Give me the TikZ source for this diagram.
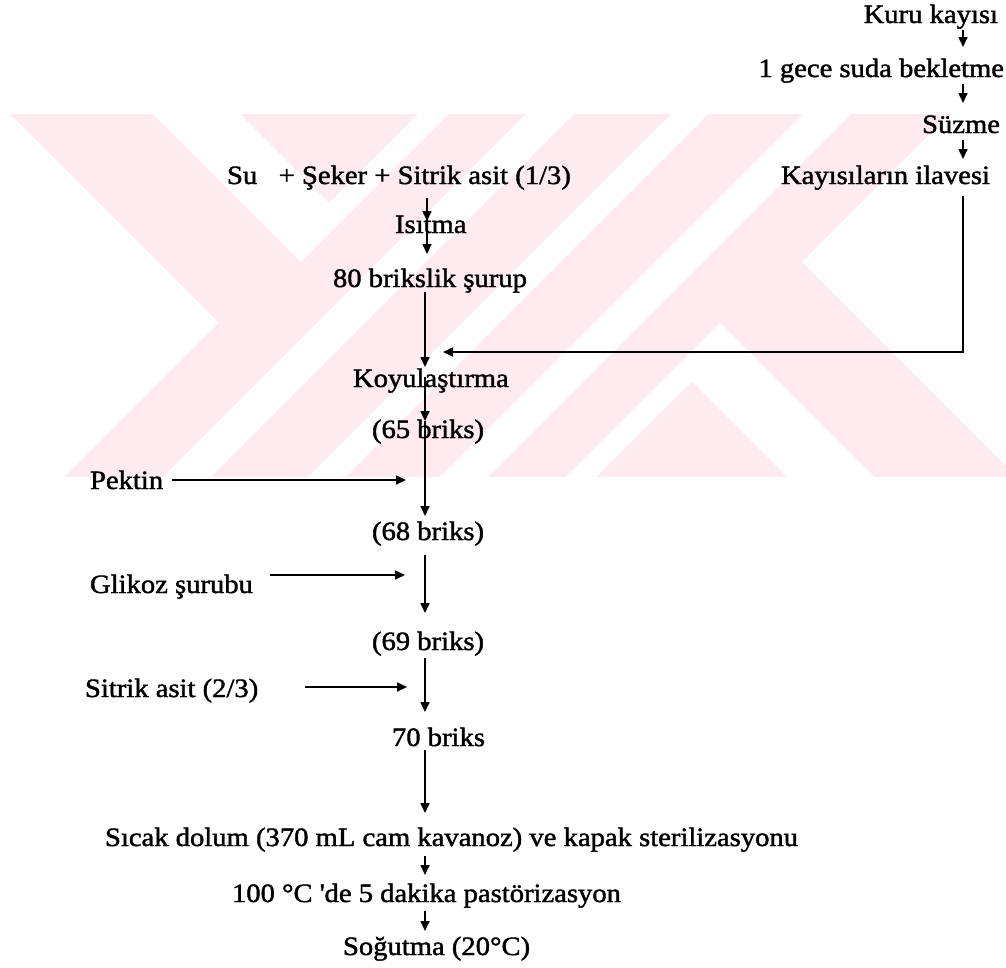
\documentclass[tikz,border=0pt]{standalone}
\usepackage{fontspec}
\setmainfont{Liberation Serif}[FakeStretch=1.08,FakeBold=1.5]
\usetikzlibrary{arrows.meta}
\definecolor{wmpink}{RGB}{253,235,239}
\begin{document}
\begin{tikzpicture}[x=1pt,y=-1pt,
  lbl/.style={inner sep=0pt,outer sep=0pt,font=\fontsize{26.5}{30}\selectfont},
  arr/.style={line width=1.6pt,-{Triangle[length=10pt,width=9pt]}},
  wm/.style={fill=white,draw=none}]
\useasboundingbox (0,0) rectangle (1006,967);
\fill[white] (0,0) rectangle (1006,967);
% watermark
\fill[wmpink] (0,114) rectangle (1006,477);
\begin{scope}
\clip (0,114) rectangle (1006,477);
\path[wm] (0,114) -- (10,114) -- (218.5,322.5) -- (64,477) -- (0,477) -- cycle;
\path[wm] (153,114) -- (240,114) -- (333.5,207.5) -- (290,251) -- cycle;
\path[wm] (418,114) -- (448,114) -- (300.5,261.5) -- (285.5,246.5) -- cycle;
\path[wm] (526,114) -- (574,114) -- (211,477) -- (163,477) -- cycle;
\path[wm] (671,114) -- (708,114) -- (345,477) -- (308,477) -- cycle;
\path[wm] (803,114) -- (851,114) -- (488,477) -- (440,477) -- cycle;
\path[wm] (566,477) -- (596,477) -- (735,338) -- (720,323) -- cycle;
\path[wm] (687,377) -- (730.5,333.5) -- (874,477) -- (787,477) -- cycle;
\path[wm] (802,262) -- (950,114) -- (1006,114) -- (1006,466) -- cycle;
\end{scope}
% right column
\node[lbl,anchor=base east] (kuru) at (998,23) {Kuru kayısı};
\node[lbl,anchor=base east] (gece) at (1004,77) {1 gece suda bekletme};
\node[lbl,anchor=base east] (suzme) at (1000,133) {Süzme};
\node[lbl,anchor=base east] (ilave) at (990,184) {Kayısıların ilavesi};
% main column
\node[lbl,anchor=base west] (su) at (227,184) {Su\ \ \ + Şeker + Sitrik asit (1/3)};
\node[lbl,anchor=base west] (isitma) at (395,233) {Isıtma};
\node[lbl,anchor=base west] (surup) at (333,287) {80 brikslik şurup};
\node[lbl,anchor=base west] (koyu) at (353,387) {Koyulaştırma};
\node[lbl,anchor=base west] (b65) at (372,438) {(65 briks)};
\node[lbl,anchor=base west] (pektin) at (90,489) {Pektin};
\node[lbl,anchor=base west] (b68) at (372,540) {(68 briks)};
\node[lbl,anchor=base west] (glikoz) at (90,593) {Glikoz şurubu};
\node[lbl,anchor=base west] (b69) at (372,650) {(69 briks)};
\node[lbl,anchor=base west] (sitrik) at (85,697) {Sitrik asit (2/3)};
\node[lbl,anchor=base west] (b70) at (392,746) {70 briks};
\node[lbl,anchor=base west] (sicak) at (105,846) {Sıcak dolum (370 mL cam kavanoz) ve kapak sterilizasyonu};
\node[lbl,anchor=base west] (pastor) at (232,902) {100 °C \textquotesingle de 5 dakika pastörizasyon};
\node[lbl,anchor=base west] (sogut) at (343,955) {Soğutma (20°C)};
% connector coordinates
\coordinate (k1) at (963,30);  \coordinate (k2) at (963,47);
\coordinate (g1) at (963,84);  \coordinate (g2) at (963,103);
\coordinate (s1) at (963,140); \coordinate (s2) at (963,159);
\coordinate (i1) at (963,196); \coordinate (i2) at (963,352); \coordinate (i3) at (443,352);
\coordinate (m1) at (427,198); \coordinate (m2) at (427,221); \coordinate (m3) at (427,254);
\coordinate (m4) at (425,292); \coordinate (m5) at (425,367);
\coordinate (m6) at (425,377); \coordinate (m7) at (425,421); \coordinate (m8) at (425,516);
\coordinate (m9) at (425,555); \coordinate (m10) at (425,613);
\coordinate (m11) at (425,658); \coordinate (m12) at (425,712);
\coordinate (m13) at (425,750); \coordinate (m14) at (425,813);
\coordinate (m15) at (425,856); \coordinate (m16) at (425,875);
\coordinate (m17) at (425,911); \coordinate (m18) at (425,931);
\coordinate (p1) at (172,480); \coordinate (p2) at (406,480);
\coordinate (q1) at (270,575); \coordinate (q2) at (405,575);
\coordinate (r1) at (305,687); \coordinate (r2) at (407,687);
% arrows
\draw[arr] (k1) -- (k2);
\draw[arr] (g1) -- (g2);
\draw[arr] (s1) -- (s2);
\draw[arr] (i1) -- (i2) -- (i3);
\draw[arr] (m1) -- (m2);
\draw[arr] (m2) -- (m3);
\draw[arr] (m4) -- (m5);
\draw[arr] (m6) -- (m7);
\draw[arr] (m7) -- (m8);
\draw[arr] (m9) -- (m10);
\draw[arr] (m11) -- (m12);
\draw[arr] (m13) -- (m14);
\draw[arr] (m15) -- (m16);
\draw[arr] (m17) -- (m18);
\draw[arr] (p1) -- (p2);
\draw[arr] (q1) -- (q2);
\draw[arr] (r1) -- (r2);
\end{tikzpicture}
\end{document}
